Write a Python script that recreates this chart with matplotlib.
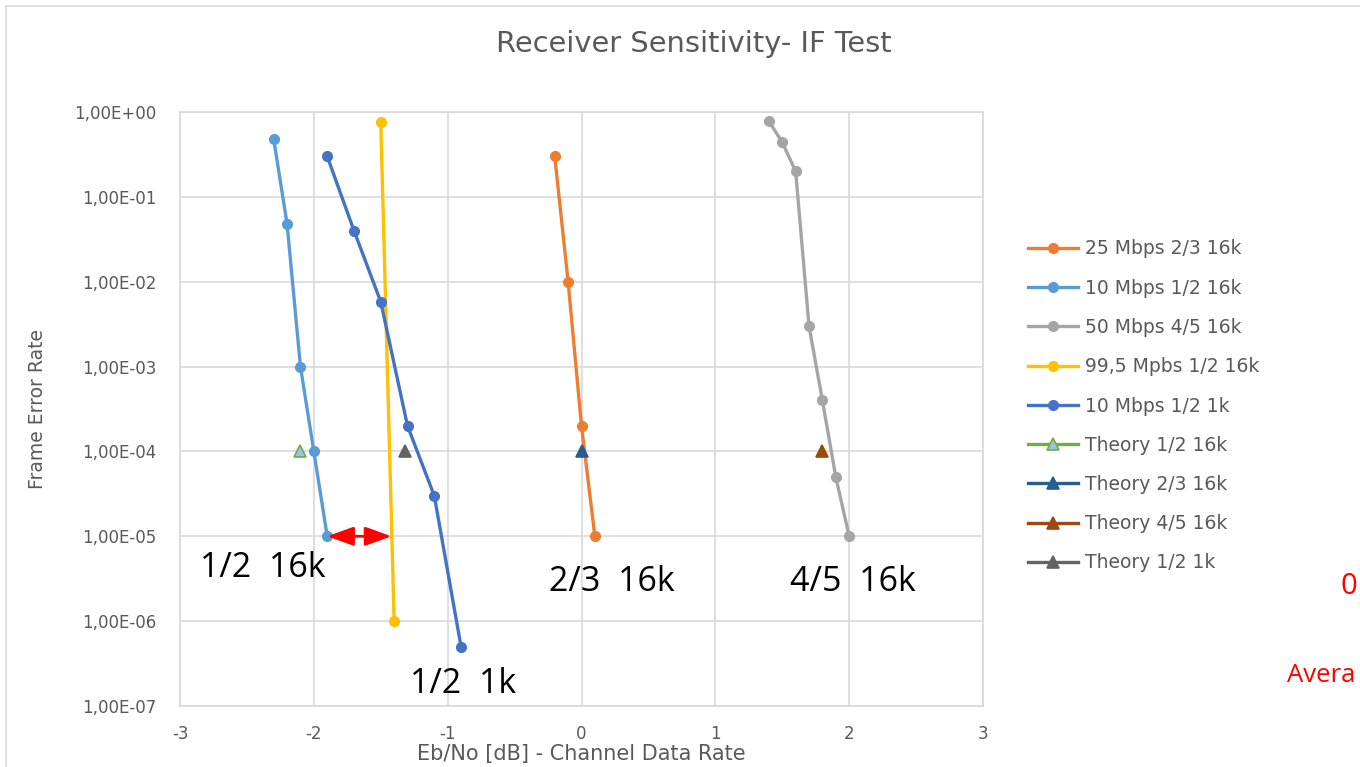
import matplotlib
matplotlib.use("Agg")
import matplotlib.pyplot as plt
from matplotlib.patches import Rectangle

# ---- data ----
x_25_23 = [-0.2, -0.1, 0.0, 0.1]
y_25_23 = [0.3, 0.01, 2e-4, 1e-5]

x_10_12_16k = [-2.3, -2.2, -2.1, -2.0, -1.9]
y_10_12_16k = [0.48, 0.048, 1e-3, 1e-4, 1e-5]

x_50_45 = [1.4, 1.5, 1.6, 1.7, 1.8, 1.9, 2.0]
y_50_45 = [0.78, 0.44, 0.2, 3e-3, 4e-4, 5e-5, 1e-5]

x_995_12 = [-1.5, -1.4]
y_995_12 = [0.76, 1e-6]

x_10_12_1k = [-1.9, -1.7, -1.5, -1.3, -1.1, -0.9]
y_10_12_1k = [0.3, 0.04, 0.0058, 2e-4, 3e-5, 5e-7]

theory_x = {"Theory 1/2 16k": -2.1, "Theory 2/3 16k": 0.0,
            "Theory 4/5 16k": 1.8, "Theory 1/2 1k": -1.32}
theory_y = 1e-4

arrow_x = [-1.9, -1.42]
arrow_y = 1e-5

xticks = [-3, -2, -1, 0, 1, 2, 3]
yticks = [1e0, 1e-1, 1e-2, 1e-3, 1e-4, 1e-5, 1e-6, 1e-7]
ytick_labels = ["1,00E+00", "1,00E-01", "1,00E-02", "1,00E-03",
                "1,00E-04", "1,00E-05", "1,00E-06", "1,00E-07"]

W, H = 1360, 767
plt.rcParams['font.family'] = ['DejaVu Sans']
fig = plt.figure(figsize=(W / 100, H / 100), dpi=100)
grey = '#595959'

# outer chart frame
fig.patches.append(Rectangle((6 / W, -0.1), 1.2, 1.1 - 6 / H, transform=fig.transFigure,
                             fill=False, edgecolor='#D9D9D9', lw=1.2, zorder=0))

ax = fig.add_axes([180 / W, 1 - 706 / H, (983 - 180) / W, (706 - 112) / H])
ax.set_yscale('log')
ax.set_xlim(-3, 3)
ax.set_ylim(1e-7, 1e0)
ax.set_xticks(xticks)
ax.set_xticklabels([str(t) for t in xticks])
ax.set_yticks(yticks)
ax.set_yticklabels(ytick_labels)
ax.yaxis.set_minor_locator(matplotlib.ticker.NullLocator())
ax.tick_params(length=0, labelsize=12, labelcolor=grey)
ax.tick_params(axis='y', pad=17)
ax.tick_params(axis='x', pad=14)
ax.grid(True, color='#D9D9D9', lw=1.2)
ax.set_axisbelow(True)
for s in ax.spines.values():
    s.set_color('#D9D9D9')
    s.set_linewidth(1.2)

lw = 2.4
ms = 7
h1, = ax.plot(x_25_23, y_25_23, '-o', color='#ED7D31', lw=lw, ms=ms, label='25 Mbps 2/3 16k')
h2, = ax.plot(x_10_12_16k, y_10_12_16k, '-o', color='#5B9BD5', lw=lw, ms=ms, label='10 Mbps 1/2 16k')
h3, = ax.plot(x_50_45, y_50_45, '-o', color='#A5A5A5', lw=lw, ms=ms, label='50 Mbps 4/5 16k')
h4, = ax.plot(x_995_12, y_995_12, '-o', color='#FFC000', lw=lw, ms=ms, label='99,5 Mpbs 1/2 16k')
h5, = ax.plot(x_10_12_1k, y_10_12_1k, '-o', color='#4472C4', lw=lw, ms=ms, label='10 Mbps 1/2 1k')

th_style = {
    "Theory 1/2 16k": dict(color='#70AD47', mfc='#9DC3E6', mec='#70AD47'),
    "Theory 2/3 16k": dict(color='#255E91', mfc='#255E91', mec='#255E91'),
    "Theory 4/5 16k": dict(color='#9E480E', mfc='#9E480E', mec='#9E480E'),
    "Theory 1/2 1k": dict(color='#636363', mfc='#636363', mec='#636363'),
}
th_handles = []
for name, xv in theory_x.items():
    st = th_style[name]
    h, = ax.plot([xv], [theory_y], '-^', lw=lw, ms=9, mew=1.2, label=name, **st)
    th_handles.append(h)

ax.annotate('', xy=(arrow_x[0], arrow_y), xytext=(arrow_x[1], arrow_y),
            arrowprops=dict(arrowstyle='<|-|>,head_length=1.0,head_width=0.36', color='red',
                            lw=2, mutation_scale=16, shrinkA=0, shrinkB=0), zorder=5)

ax.set_xlabel('Eb/No [dB] - Channel Data Rate', fontsize=15, color=grey)
ax.xaxis.set_label_coords(0.5, -0.064)
ax.set_ylabel('Frame Error Rate', fontsize=13.5, color=grey)
ax.yaxis.set_label_coords(-0.166, 0.5)

fig.text(694 / W, 1 - 44 / H, 'Receiver Sensitivity- IF Test', ha='center', va='center',
         fontsize=20.8, color=grey)

handles = [h1, h2, h3, h4, h5] + th_handles
leg = fig.legend(handles=handles, loc='upper left', bbox_to_anchor=(1020.5 / W, 1 - 232 / H),
                 frameon=False, prop={'size': 13.5}, labelcolor=grey, handlelength=2.67,
                 labelspacing=1.08, handletextpad=0.37, borderaxespad=0)

ann_fs = 24.5
annf = ['Open Sans', 'DejaVu Sans']
fig.text(200 / W, 1 - 568 / H, '1/2  16k', ha='left', va='center', fontsize=ann_fs, color='black', family=annf)
fig.text(549 / W, 1 - 582 / H, '2/3  16k', ha='left', va='center', fontsize=ann_fs, color='black', family=annf)
fig.text(790 / W, 1 - 582 / H, '4/5  16k', ha='left', va='center', fontsize=ann_fs, color='black', family=annf)
fig.text(410 / W, 1 - 684 / H, '1/2  1k', ha='left', va='center', fontsize=ann_fs, color='black', family=annf)
fig.text(1341 / W, 1 - 586 / H, '0', ha='left', va='center', fontsize=21, color='red', family=annf)
fig.text(1287 / W, 1 - 676 / H, 'Avera', ha='left', va='center', fontsize=18.5, color='red', family=annf)

fig.savefig('out.png', dpi=100)
